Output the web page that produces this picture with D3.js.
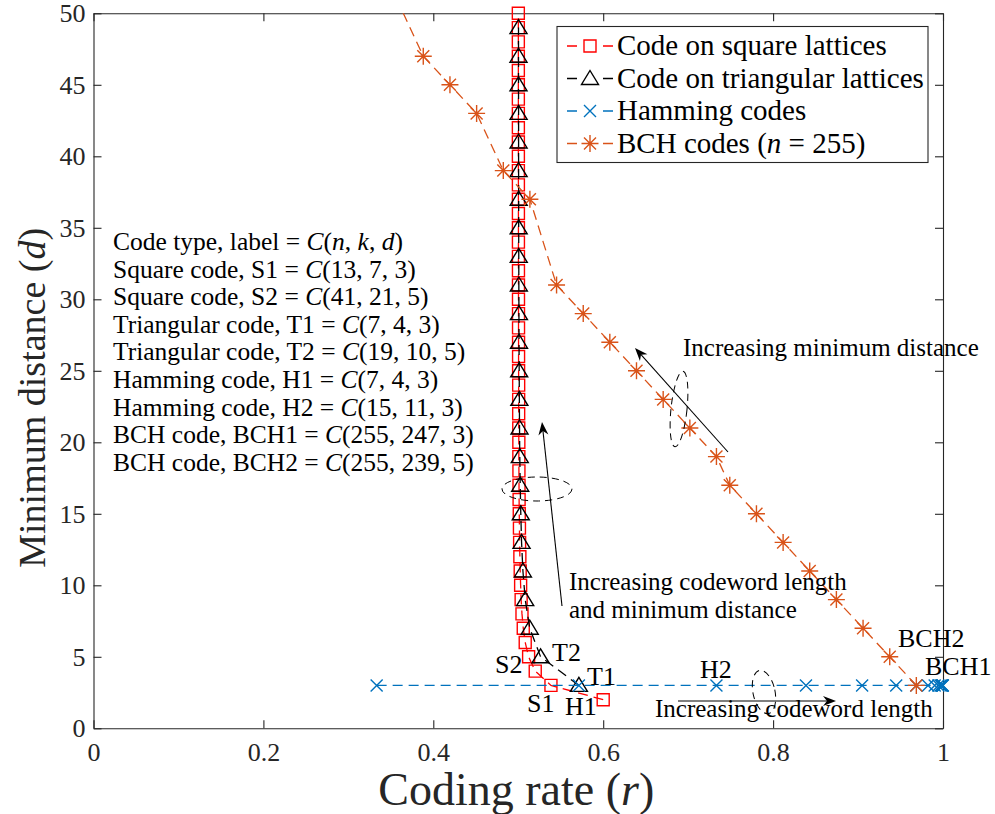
<!DOCTYPE html>
<html><head><meta charset="utf-8">
<script src="https://cdn.jsdelivr.net/npm/d3@7"></script>
<style>
body{margin:0;background:#fff;}
svg{display:block;}
text{font-family:'Liberation Serif','Times New Roman',serif;white-space:pre;}
</style>
</head><body><svg id="c" width="995" height="814"></svg>
<script>
// ---------------- DATA ----------------
const squareD = [2,3,4,5,6,7,8,9,10,11,12,13,14,15,16,17,18,19,20,21,22,23,24,25,26,27,28,29,30,31,32,33,34,35,36,37,38,39,40,41,42,43,44,45,46,47,48,49,50];
const squareRate = [0.6000,0.5385,0.5200,0.5122,0.5082,0.5059,0.5044,0.5034,0.5028,0.5023,0.5019,0.5016,0.5014,0.5012,0.5010,0.5009,0.5008,0.5007,0.5007,0.5006,0.5005,0.5005,0.5005,0.50042,0.50038,0.50036,0.50033,0.50031,0.50029,0.50027,0.50025,0.50024,0.50022,0.50021,0.50020,0.50019,0.50018,0.50017,0.50016,0.50015,0.50015,0.50014,0.50013,0.50013,0.50012,0.50012,0.50011,0.50011,0.50010];
const triD = [3,5,7,9,11,13,15,17,19,21,23,25,27,29,31,33,35,37,39,41,43,45,47,49];
const triRate = [0.5714,0.5263,0.5135,0.5082,0.5055,0.5039,0.5030,0.5023,0.5018,0.5015,0.5013,0.5011,0.5009,0.5008,0.5007,0.5006,0.5005,0.5005,0.5004,0.5004,0.5004,0.5003,0.5003,0.5003];
const hammingRate = [0.3333,0.5714,0.7333,0.8387,0.9048,0.9449,0.9686,0.9824,0.9902,0.9946,0.9971,0.9984,0.9991,0.9995,0.9998];
const hammingD = [3,3,3,3,3,3,3,3,3,3,3,3,3,3,3];
const bchRate = [0.9686,0.9373,0.9059,0.8745,0.8431,0.8118,0.7804,0.7490,0.7333,0.7020,0.6706,0.6392,0.6078,0.5765,0.5451,0.5137,0.4824,0.4510,0.4196,0.3882,0.3569];
const bchD = [3,5,7,9,11,13,15,17,19,21,23,25,27,29,31,37,39,43,45,47,51];

const xTicks = [0,0.2,0.4,0.6,0.8,1];
const xTickLabels = ["0","0.2","0.4","0.6","0.8","1"];
const yTicks = [0,5,10,15,20,25,30,35,40,45,50];
const yTickLabels = ["0","5","10","15","20","25","30","35","40","45","50"];

const legendLabels = ["Code on square lattices","Code on triangular lattices","Hamming codes","BCH codes ({n} = 255)"];
const infoLines = [
  "Code type, label = {C}({n}, {k}, {d})",
  "Square code, S1 = {C}(13, 7, 3)",
  "Square code, S2 = {C}(41, 21, 5)",
  "Triangular code, T1 = {C}(7, 4, 3)",
  "Triangular code, T2 = {C}(19, 10, 5)",
  "Hamming code, H1 = {C}(7, 4, 3)",
  "Hamming code, H2 = {C}(15, 11, 3)",
  "BCH code, BCH1 = {C}(255, 247, 3)",
  "BCH code, BCH2 = {C}(255, 239, 5)"
];
const pointLabels = ["S2","T2","S1","T1","H1","H2","BCH2","BCH1"];
const xLabel = "Coding rate ({r})";
const yLabel = "Minimum distance ({d})";

// ---------------- LAYOUT ----------------
const W = 995, H = 814;
const L = 93.5, R = 943, T = 13.3, B = 728.3;
const axisColor = "#262626";
const cRed = "#FF0000", cBlack = "#000000", cBlue = "#0072BD", cOrange = "#D95319";

const svg = d3.select("#c");
svg.append("rect").attr("width",W).attr("height",H).attr("fill","#fff");

const x = d3.scaleLinear().domain([0,1]).range([L,R]);
const y = d3.scaleLinear().domain([0,50]).range([B,T]);

function richText(sel, str){
  str.split(/(\{[^}]*\})/).filter(s=>s.length).forEach(p=>{
    if(p[0]==="{") sel.append("tspan").attr("font-style","italic").text(p.slice(1,-1));
    else sel.append("tspan").text(p);
  });
  return sel;
}

// axes
const fTick = 26;
const gx = svg.append("g").attr("transform",`translate(0,${B})`)
  .call(d3.axisBottom(x).tickValues(xTicks).tickFormat((d,i)=>xTickLabels[i]).tickSize(-8).tickSizeOuter(0).tickPadding(14));
const gxt = svg.append("g").attr("transform",`translate(0,${T})`)
  .call(d3.axisTop(x).tickValues(xTicks).tickFormat("").tickSize(-8).tickSizeOuter(0));
const gy = svg.append("g").attr("transform",`translate(${L},0)`)
  .call(d3.axisLeft(y).tickValues(yTicks).tickFormat((d,i)=>yTickLabels[i]).tickSize(-8).tickSizeOuter(0).tickPadding(8));
const gyr = svg.append("g").attr("transform",`translate(${R},0)`)
  .call(d3.axisRight(y).tickValues(yTicks).tickFormat("").tickSize(-8).tickSizeOuter(0));
[gx,gxt,gy,gyr].forEach(g=>{
  g.selectAll("path,line").attr("stroke",axisColor).attr("stroke-width",1.1);
  g.selectAll("text").attr("fill",axisColor).attr("font-size",fTick)
   .attr("font-family","'Liberation Serif','Times New Roman',serif");
});

// clip for lines
svg.append("clipPath").attr("id","clip").append("rect")
  .attr("x",L).attr("y",T).attr("width",R-L).attr("height",B-T);

const line = d3.line().x(d=>x(d[0])).y(d=>y(d[1]));
const dash = "10,6";
const series = [
  {rate:squareRate, d:squareD, color:cRed, type:"square"},
  {rate:triRate, d:triD, color:cBlack, type:"tri"},
  {rate:hammingRate, d:hammingD, color:cBlue, type:"x"},
  {rate:bchRate, d:bchD, color:cOrange, type:"star"}
];

function markerPath(type, cx, cy){
  switch(type){
    case "square": return `M${cx-6},${cy-6}h12v12h-12Z`;
    case "tri": return `M${cx},${cy-8}L${cx+8.5},${cy+6}L${cx-8.5},${cy+6}Z`;
    case "x": return `M${cx-6},${cy-6}L${cx+6},${cy+6}M${cx-6},${cy+6}L${cx+6},${cy-6}`;
    case "star": return `M${cx-8.5},${cy}H${cx+8.5}M${cx},${cy-8.5}V${cy+8.5}M${cx-6},${cy-6}L${cx+6},${cy+6}M${cx-6},${cy+6}L${cx+6},${cy-6}`;
  }
}

series.forEach(s=>{
  const pts = s.rate.map((r,i)=>[r,s.d[i]]);
  const g = svg.append("g");
  g.append("path").attr("d",line(pts)).attr("fill","none").attr("stroke",s.color)
    .attr("stroke-width",1.3).attr("stroke-dasharray",dash).attr("clip-path","url(#clip)");
  g.selectAll("path.m").data(pts.filter(p=>p[1]<=50)).join("path").attr("class","m")
    .attr("d",p=>markerPath(s.type,x(p[0]),y(p[1])))
    .attr("fill","none").attr("stroke",s.color).attr("stroke-width",1.4);
});

// legend
const lg = svg.append("g");
lg.append("rect").attr("x",557).attr("y",26.5).attr("width",371).attr("height",136)
  .attr("fill","#fff").attr("stroke",axisColor).attr("stroke-width",1.1);
const rowY = [46,78.5,111,143.5];
series.forEach((s,i)=>{
  const yy = rowY[i];
  lg.append("path").attr("d",`M567,${yy}H613`).attr("stroke",s.color).attr("stroke-width",1.3)
    .attr("stroke-dasharray","10,26,10");
  lg.append("path").attr("d",markerPath(s.type,590,yy)).attr("fill","none").attr("stroke",s.color).attr("stroke-width",1.4);
  richText(lg.append("text").attr("x",617).attr("y",yy+9).attr("font-size",29).attr("fill","#000"), legendLabels[i]);
});

// info text block
const ig = svg.append("g");
infoLines.forEach((t,i)=>{
  richText(ig.append("text").attr("x",113).attr("y",250+i*27.6).attr("font-size",25.5).attr("fill","#000"), t);
});

// point labels
const pointPos = [[495,673],[552,661],[527,712],[587,685],[565,715],[700,678],[898,647],[925,675]];
pointLabels.forEach((t,i)=>{
  svg.append("text").attr("x",pointPos[i][0]).attr("y",pointPos[i][1]).attr("font-size",26).attr("fill","#000").text(t);
});

// annotation texts
const notes = [
  ["Increasing minimum distance",683,356],
  ["Increasing codeword length",569,590],
  ["and minimum distance",569,618],
  ["Increasing codeword length",655,717]
];
notes.forEach(n=>{
  svg.append("text").attr("x",n[1]).attr("y",n[2]).attr("font-size",25).attr("fill","#000").text(n[0]);
});

// arrows
function arrow(x1,y1,x2,y2){
  const ang = Math.atan2(y2-y1,x2-x1);
  const len = 13, hw = 5, notch = 9;
  const ux = Math.cos(ang), uy = Math.sin(ang);
  const px = -uy, py = ux;
  const bx = x2-ux*len, by = y2-uy*len;
  const nx = x2-ux*notch, ny = y2-uy*notch;
  svg.append("path").attr("d",`M${x1},${y1}L${nx},${ny}`).attr("stroke","#000").attr("stroke-width",1.1);
  svg.append("path").attr("d",`M${x2},${y2}L${bx+px*hw},${by+py*hw}L${nx},${ny}L${bx-px*hw},${by-py*hw}Z`).attr("fill","#000");
}
arrow(728,452,635,348);
arrow(562,606,542,422);
arrow(678,701,836,701);

// dashed ellipses
const ells = [[679,409,8,38,6],[537,489,35,12,0],[764,692,11,22,-12]];
ells.forEach(e=>{
  svg.append("ellipse").attr("cx",0).attr("cy",0).attr("rx",e[2]).attr("ry",e[3])
    .attr("transform",`translate(${e[0]},${e[1]}) rotate(${e[4]})`)
    .attr("fill","none").attr("stroke","#000").attr("stroke-width",1).attr("stroke-dasharray","7,5");
});

// axis labels
richText(svg.append("text").attr("x",(L+R)/2-2).attr("y",805).attr("text-anchor","middle")
  .attr("font-size",46).attr("fill",axisColor), xLabel);
richText(svg.append("text").attr("transform",`translate(45,${(T+B)/2+27}) rotate(-90)`).attr("text-anchor","middle")
  .attr("font-size",38).attr("fill",axisColor), yLabel);
</script>
</body></html>
